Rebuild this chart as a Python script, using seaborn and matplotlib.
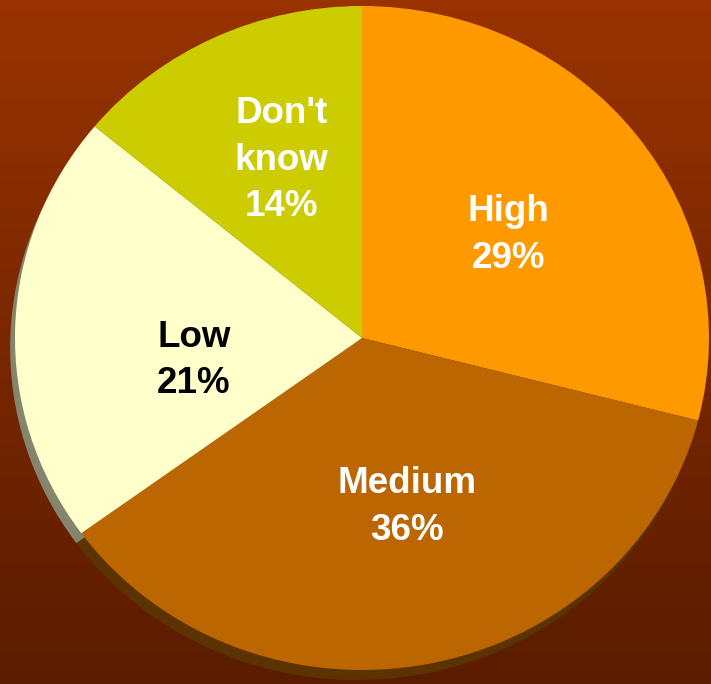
import numpy as np
import matplotlib
matplotlib.use("Agg")
import matplotlib.pyplot as plt
import seaborn as sns
from matplotlib.colors import LinearSegmentedColormap

categories = ["High", "Medium", "Low", "Don't know"]
values = [29, 36, 21, 14]
label_texts = ["High", "Medium", "Low", "Don't\nknow"]
slice_colors = ["#FF9900", "#BB6600", "#FFFFCC", "#CCCC00"]
shadow_colors = ["#5C3300", "#5C3300", "#85856E", "#6A6A10"]
text_colors = ["white", "white", "black", "white"]

sns.set_style("white")
plt.rcParams['font.family'] = ['Liberation Sans', 'DejaVu Sans']

fig = plt.figure(figsize=(7.11, 6.84), dpi=100)

# gradient background
bg = fig.add_axes([0, 0, 1, 1], zorder=0)
cmap = LinearSegmentedColormap.from_list("bg", ["#993300", "#5A1C00"])
grad = np.linspace(0, 1, 256).reshape(-1, 1)
bg.imshow(grad, aspect="auto", cmap=cmap, extent=[0, 1, 0, 1], origin="upper")
bg.set_axis_off()

ax = fig.add_axes([0, 0, 1, 1], zorder=1)
ax.patch.set_alpha(0)

# shadow pie
ax.pie(values, colors=shadow_colors, startangle=90, counterclock=False,
       center=(-0.014, -0.030), radius=1.0,
       wedgeprops=dict(linewidth=0))

labels = [f"{t}\n{v}%" for t, v in zip(label_texts, values)]
wedges, texts = ax.pie(values, colors=slice_colors, startangle=90, counterclock=False,
                       labels=labels, labeldistance=0.53, radius=1.0,
                       wedgeprops=dict(linewidth=0),
                       textprops=dict(fontsize=26.5, fontweight="bold",
                                      ha="center", va="center", linespacing=1.42))

# label placement (layout, in axes data units)
label_offsets = [(0.421, 0.310), (0.130, -0.509), (-0.484, -0.068), (-0.233, 0.536)]
for t, c, pos in zip(texts, text_colors, label_offsets):
    t.set_color(c)
    t.set_horizontalalignment("center")
    t.set_verticalalignment("center")
    t.set_position(pos)

ax.set_aspect("auto")
ax.set_xlim(-362 / 347, (711 - 362) / 347)
ax.set_ylim(-(684 - 338) / 332, 338 / 332)
ax.set_axis_off()

fig.savefig("out.png", dpi=100)
